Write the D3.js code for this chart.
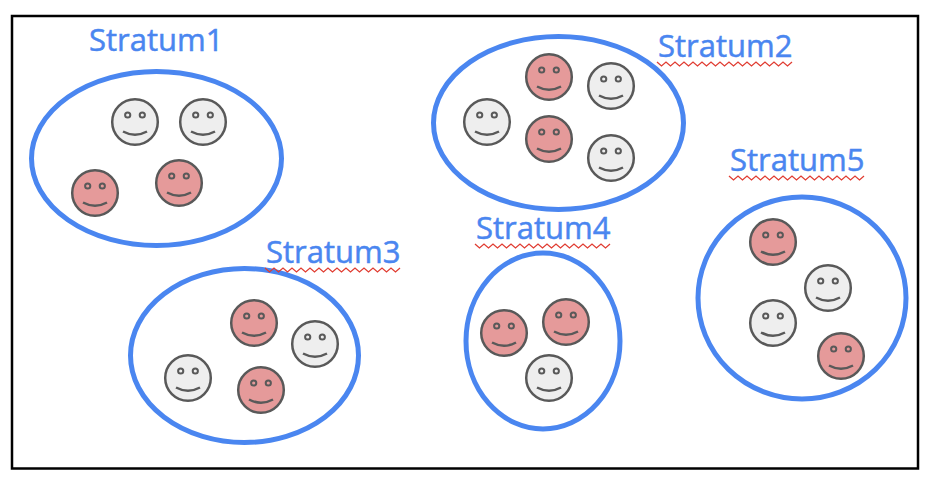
<!DOCTYPE html>
<html>
<head>
<meta charset="utf-8">
<script src="https://cdn.jsdelivr.net/npm/d3@7"></script>
<style>
html, body { margin: 0; padding: 0; background: #fff; }
svg { display: block; }
</style>
</head>
<body>
<div id="my_dataviz"></div>
<script>
// values measured inside the black frame (0,0 = its top left corner)
var strata = ["Stratum1", "Stratum2", "Stratum3", "Stratum4", "Stratum5"];
var stratumX = [144.5, 546.5, 232.5, 531, 790];
var stratumY = [142.5, 107, 339.5, 325, 282];
var stratumRx = [125, 125, 114, 77, 104];
var stratumRy = [87, 86.5, 87, 88, 101];
var labelX = [77, 646, 254, 464, 718];
var labelY = [35, 41, 247, 223, 155];
var labelFlagged = [false, true, true, true, true];

var faceStratum = [0, 0, 0, 0, 1, 1, 1, 1, 1, 2, 2, 2, 2, 3, 3, 3, 4, 4, 4, 4];
var faceX = [123, 191, 83, 167, 475, 537, 599, 537, 599, 242, 303, 176, 249, 492, 554, 537, 761, 816, 761, 829];
var faceY = [106, 106, 177, 167, 106, 61, 70, 123, 142, 307, 328, 362, 374, 317, 306, 362, 226, 272, 307, 340];
var faceGroup = ["a", "a", "b", "b", "a", "b", "a", "b", "a", "b", "a", "a", "b", "b", "b", "a", "b", "a", "a", "b"];

var margin = {top: 16, left: 12},
width = 906,
height = 452;

var svg = d3.select("#my_dataviz")
.append("svg")
.attr("width", 932)
.attr("height", 484);

var x = d3.scaleLinear().domain([0, width]).range([margin.left, margin.left + width]);
var y = d3.scaleLinear().domain([0, height]).range([margin.top, margin.top + height]);
var color = d3.scaleOrdinal().domain(["a", "b"]).range(["#eeeeee", "#e59a9a"]);

svg.append("rect")
.attr("x", x(0))
.attr("y", y(0))
.attr("width", width)
.attr("height", height + 0.5)
.attr("fill", "#fff")
.attr("stroke", "#000")
.attr("stroke-width", 2.5);

svg.selectAll(".stratum")
.data(strata)
.enter()
.append("ellipse")
.attr("class", "stratum")
.attr("cx", function(d, i) { return x(stratumX[i]); })
.attr("cy", function(d, i) { return y(stratumY[i]); })
.attr("rx", function(d, i) { return stratumRx[i]; })
.attr("ry", function(d, i) { return stratumRy[i]; })
.attr("fill", "none")
.attr("stroke", "#4a86f0")
.attr("stroke-width", 5);

var faces = svg.selectAll(".face")
.data(faceGroup)
.enter()
.append("g")
.attr("class", "face")
.attr("data-stratum", function(d, i) { return strata[faceStratum[i]]; })
.attr("transform", function(d, i) {
  return "translate(" + x(faceX[i]) + "," + y(faceY[i]) + ")";
});

faces.append("circle")
.attr("r", 22.8)
.attr("fill", function(d) { return color(d); })
.attr("stroke", "#595959")
.attr("stroke-width", 2.5);

faces.selectAll(".eye")
.data([-7.3, 7.3])
.enter()
.append("circle")
.attr("class", "eye")
.attr("cx", function(d) { return d; })
.attr("cy", -7)
.attr("r", 2.6)
.attr("fill", "none")
.attr("stroke", "#595959")
.attr("stroke-width", 2);

faces.append("path")
.attr("d", "M-12,9.5Q0,16 12,9.5")
.attr("fill", "none")
.attr("stroke", "#595959")
.attr("stroke-width", 2.5);

var labels = svg.selectAll(".label")
.data(strata)
.enter()
.append("text")
.attr("class", "label")
.attr("x", function(d, i) { return x(labelX[i]); })
.attr("y", function(d, i) { return y(labelY[i]); })
.attr("font-family", "'Open Sans', 'Noto Sans', sans-serif")
.attr("font-size", 31)
.attr("fill", "#4a86f0")
.attr("stroke", "#4a86f0")
.attr("stroke-width", 0.5)
.text(function(d) { return d; });

// red squiggle under the flagged labels
labels.each(function(d, i) {
  if (!labelFlagged[i]) return;
  var w = this.getComputedTextLength();
  var x0 = x(labelX[i]) - 1, y0 = y(labelY[i]) + 5;
  var p = d3.path();
  p.moveTo(x0, y0);
  for (var k = 1, px = 0; px < w; k++) {
    px = k * 4.5;
    p.lineTo(x0 + px, y0 + (k % 2 ? 4 : 0));
  }
  svg.append("path")
  .attr("d", p.toString())
  .attr("fill", "none")
  .attr("stroke", "#e03c31")
  .attr("stroke-width", 1.3);
});
</script>
</body>
</html>
